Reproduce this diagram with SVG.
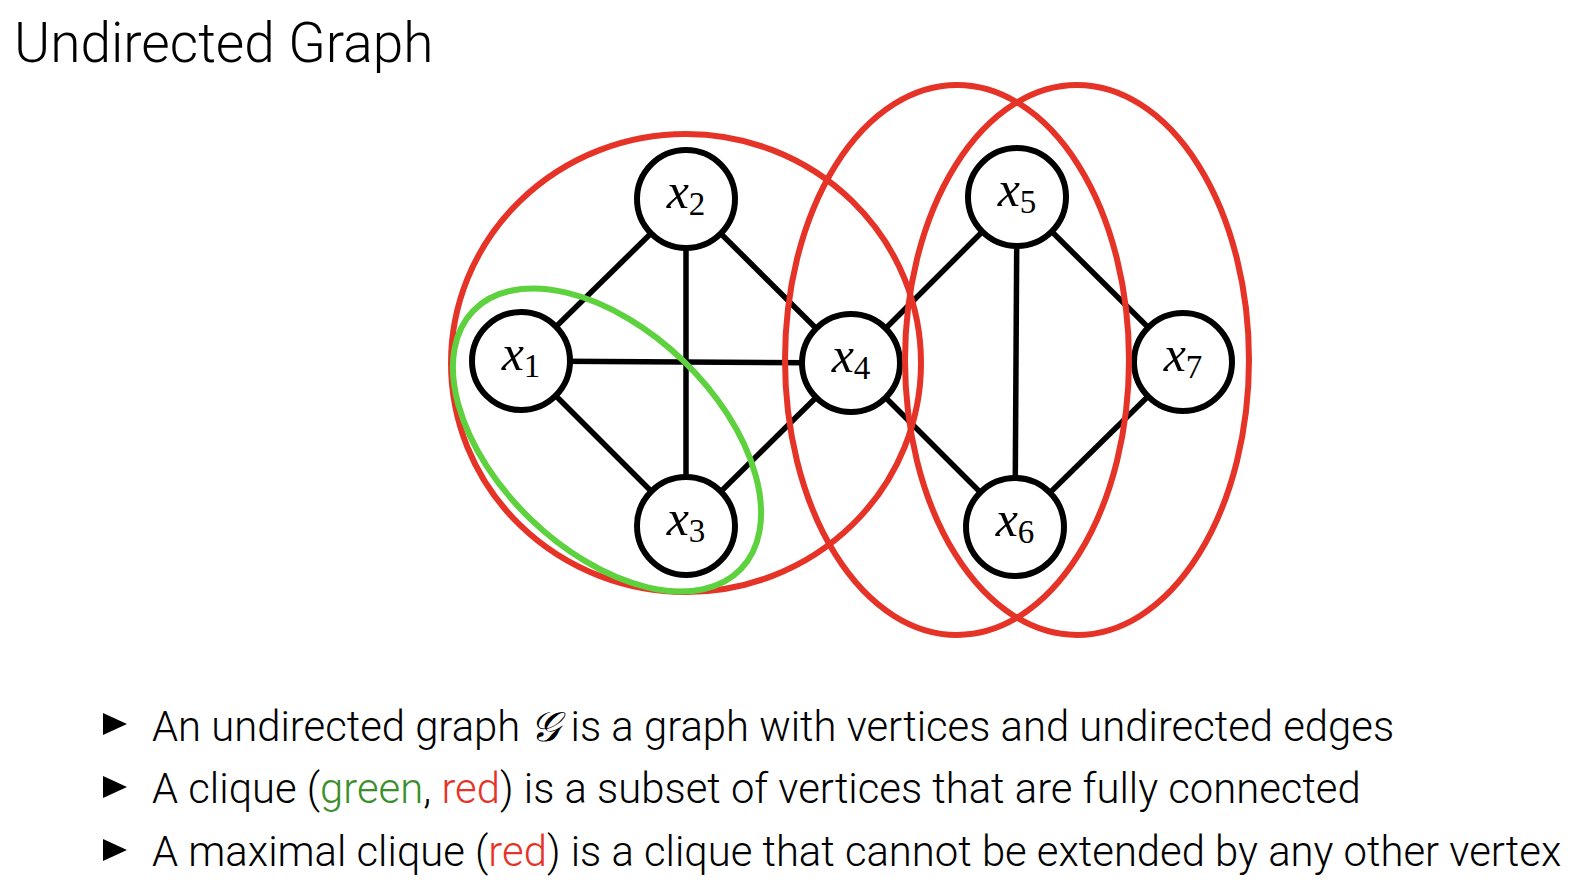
<svg xmlns="http://www.w3.org/2000/svg" width="1570" height="890" viewBox="0 0 1570 890">
<style>
.bg{fill:#ffffff}
.title{font-family:Roboto,"Liberation Sans",sans-serif;font-weight:300;font-size:55px;fill:#000}
.bullet{font-family:Roboto,"Liberation Sans",sans-serif;font-weight:300;font-size:41.8px;fill:#000}
.edge{stroke:#000;stroke-width:5.5;fill:none}
.node circle{fill:#fff;stroke:#000;stroke-width:6}
.lbl{font-family:"Liberation Serif","DejaVu Serif",serif;font-size:50px;fill:#000}
.lbl .v{font-style:italic}
.lbl .s{font-size:33px}
.red{fill:none;stroke:#e63327;stroke-width:6}
.green{fill:none;stroke:#5ed13e;stroke-width:6}
.tg{fill:#3a8f2b}
.tr{fill:#e63327}
.tri{fill:#000}
</style>
<rect class="bg" x="0" y="0" width="1570" height="890"/>
<text class="title" x="14" y="62">Undirected Graph</text>
<g id="connectors">
<line class="edge" x1="521" y1="361" x2="686" y2="199"/>
<line class="edge" x1="521" y1="361" x2="686" y2="526"/>
<line class="edge" x1="521" y1="361" x2="851" y2="363"/>
<line class="edge" x1="686" y1="199" x2="686" y2="526"/>
<line class="edge" x1="686" y1="199" x2="851" y2="363"/>
<line class="edge" x1="686" y1="526" x2="851" y2="363"/>
<line class="edge" x1="851" y1="363" x2="1017" y2="197"/>
<line class="edge" x1="851" y1="363" x2="1015" y2="527"/>
<line class="edge" x1="1017" y1="197" x2="1015" y2="527"/>
<line class="edge" x1="1017" y1="197" x2="1183" y2="362"/>
<line class="edge" x1="1015" y1="527" x2="1183" y2="362"/>
</g>
<g id="node-x1" class="node"><circle cx="521" cy="361" r="49"/><text class="lbl" x="521" y="370" text-anchor="middle"><tspan class="v">x</tspan><tspan class="s" dy="7">1</tspan></text></g>
<g id="node-x2" class="node"><circle cx="686" cy="199" r="49"/><text class="lbl" x="686" y="208" text-anchor="middle"><tspan class="v">x</tspan><tspan class="s" dy="7">2</tspan></text></g>
<g id="node-x3" class="node"><circle cx="686" cy="526" r="49"/><text class="lbl" x="686" y="535" text-anchor="middle"><tspan class="v">x</tspan><tspan class="s" dy="7">3</tspan></text></g>
<g id="node-x4" class="node"><circle cx="851" cy="363" r="49"/><text class="lbl" x="851" y="372" text-anchor="middle"><tspan class="v">x</tspan><tspan class="s" dy="7">4</tspan></text></g>
<g id="node-x5" class="node"><circle cx="1017" cy="197" r="49"/><text class="lbl" x="1017" y="206" text-anchor="middle"><tspan class="v">x</tspan><tspan class="s" dy="7">5</tspan></text></g>
<g id="node-x6" class="node"><circle cx="1015" cy="527" r="49"/><text class="lbl" x="1015" y="536" text-anchor="middle"><tspan class="v">x</tspan><tspan class="s" dy="7">6</tspan></text></g>
<g id="node-x7" class="node"><circle cx="1183" cy="362" r="49"/><text class="lbl" x="1183" y="371" text-anchor="middle"><tspan class="v">x</tspan><tspan class="s" dy="7">7</tspan></text></g>
<g id="cliques">
<ellipse class="red" cx="686" cy="363" rx="235" ry="229"/>
<ellipse class="red" cx="957" cy="360" rx="172" ry="275"/>
<ellipse class="red" cx="1077" cy="360" rx="172" ry="275"/>
<ellipse class="green" cx="607" cy="440" rx="186" ry="110" transform="rotate(44 607 440)"/>
</g>
<g id="bullets">
<polygon class="tri" points="103,713 127,724 103,735"/>
<polygon class="tri" points="103,776 127,787 103,798"/>
<polygon class="tri" points="103,839 127,850 103,861"/>
<text class="bullet" x="152" y="741">An undirected graph <tspan font-family="'DejaVu Serif',serif" font-style="italic">𝒢</tspan> is a graph with vertices and undirected edges</text>
<text class="bullet" x="152" y="803">A clique (<tspan class="tg">green</tspan>, <tspan class="tr">red</tspan>) is a subset of vertices that are fully connected</text>
<text class="bullet" x="152" y="866">A maximal clique (<tspan class="tr">red</tspan>) is a clique that cannot be extended by any other vertex</text>
</g>
</svg>
